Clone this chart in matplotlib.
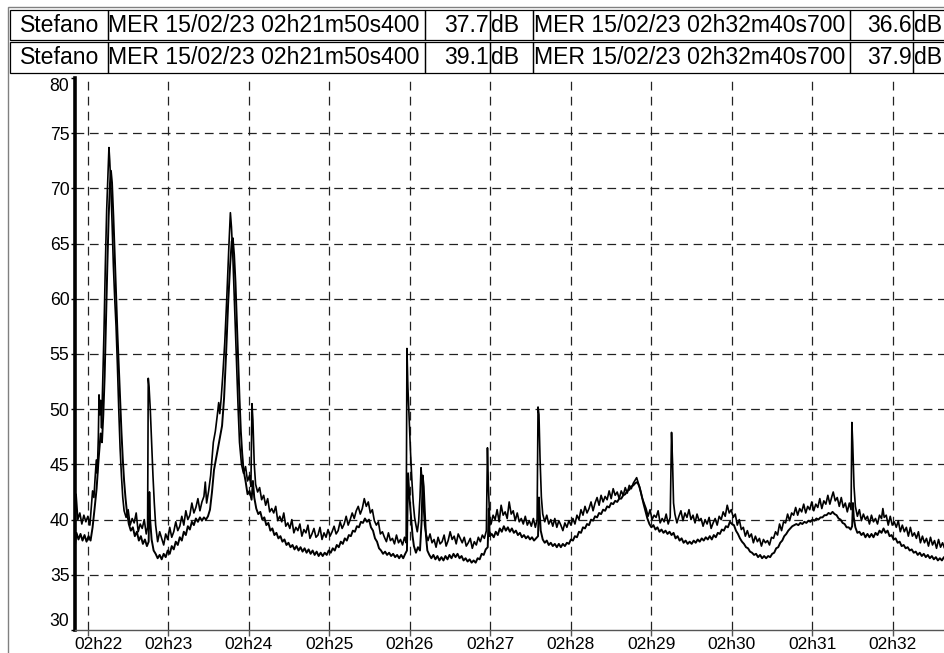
import matplotlib
matplotlib.use("Agg")
import matplotlib.pyplot as plt
from matplotlib.patches import Rectangle
from matplotlib.transforms import ScaledTranslation

plt.rcParams['font.family'] = ['Liberation Sans', 'DejaVu Sans']

# time in seconds after 02h21m00, level in dB
upper = [
    (50.4, 39.1), (51.2, 42.3), (52.5, 40.0), (54, 40.6), (55.5, 39.6), (57, 40.4), (58.5, 39.8),
    (60, 40.3), (61.5, 39.5), (62.5, 41.0), (63.5, 42.6), (64.5, 42.0), (65.5, 44.0), (66.3, 45.4),
    (67, 44.2), (67.8, 47.5), (68.3, 51.3), (68.9, 49.5), (69.5, 50.8), (70.2, 48.3), (71, 52),
    (72, 57), (73, 63), (74, 68), (75, 71.5), (75.7, 73.7), (76.3, 72.5), (77, 70.5), (78, 67),
    (79, 63), (80, 60), (81, 57.5), (82, 54), (83, 50), (84, 46.5), (85, 44), (86, 42), (87, 40.8),
    (88.5, 40.2), (90, 40.9), (91.5, 39.5), (93, 40.1), (94.5, 39.7), (96, 40.6), (97.5, 38.9),
    (99, 39.6), (100.5, 39.2), (102, 40.0), (103.5, 38.7), (104.5, 39.3), (105.0, 52.8),
    (105.6, 52.0), (106.5, 50.0), (107.5, 47.0), (108.5, 44.0), (109.5, 41.5), (110.5, 39.5),
    (112, 38.0), (113.5, 38.9), (115, 38.3), (116.5, 37.7), (118, 38.7), (119.5, 38.2), (121, 39.3),
    (122.5, 38.4), (124, 38.9), (125.5, 39.8), (127, 39.0), (128.5, 39.4), (130, 40.3), (131.5, 39.5),
    (133, 40.8), (134.5, 40.0), (136, 40.4), (137.5, 41.5), (139, 40.6), (140.5, 41.1), (142, 41.9),
    (143.5, 40.8), (145, 41.6), (146.5, 42.1), (147.5, 43.4), (148.5, 41.5), (150, 42.6), (151.5, 44.0),
    (152.5, 45.5), (153.5, 47), (155, 48), (156.5, 49.5), (157.5, 50.6), (158.3, 49.6), (159.3, 50.9),
    (160.5, 53), (162, 56), (163.5, 60), (165, 64.5), (166.2, 67.8), (167, 66.5), (168, 64),
    (169, 60.5), (170, 57), (171, 53.5), (172, 50), (173, 47), (174.5, 45), (176, 44.2), (177.5, 44.8),
    (179, 43.5), (180.5, 44.0), (181.5, 43.0), (182.3, 50.5), (183, 49), (184, 45), (185, 43.2),
    (186.5, 42.5), (188, 42.9), (189.5, 41.8), (191, 42.2), (192.5, 41.3), (194, 41.9), (195.5, 40.7),
    (197, 41.0), (198.5, 40.6), (200, 41.2), (201.5, 39.9), (203, 40.3), (204.5, 39.8), (206, 40.6),
    (207.5, 39.4), (209, 39.7), (210.5, 39.2), (212, 40.0), (213.5, 38.8), (215, 39.3), (216.5, 39.0),
    (218, 39.6), (219.5, 38.5), (221, 39.1), (222.5, 38.8), (224, 39.5), (225.5, 38.3), (227, 38.7),
    (228.5, 39.2), (230, 38.4), (231.5, 38.6), (233, 39.3), (234.5, 38.2), (236, 38.8), (237.5, 38.4),
    (239, 39.1), (240.5, 38.5), (242, 38.9), (243.5, 39.4), (245, 38.7), (246.5, 39.0), (248, 39.8),
    (249.5, 39.2), (251, 39.6), (252.5, 40.3), (254, 39.5), (255.5, 40.0), (257, 40.6), (258.5, 40.1),
    (260, 40.8), (261.5, 41.2), (263, 40.5), (264.5, 41.0), (266, 41.9), (267.5, 41.2), (269, 41.6),
    (270.5, 40.6), (272, 40.9), (273.5, 39.9), (275, 39.5), (276.5, 39.8), (278, 38.7), (279.5, 38.9),
    (281, 38.4), (282.5, 38.0), (284, 38.8), (285.5, 38.1), (287, 38.3), (288.5, 37.8), (290, 38.6),
    (291.5, 37.9), (293, 38.2), (294.5, 37.7), (296, 38.4), (297.2, 37.9), (297.8, 55.5), (298.5, 52),
    (299.5, 49), (300.5, 46), (301.5, 43.5), (302.5, 41.5), (303.5, 40.2), (304.5, 39.5), (305.5, 38.9),
    (306.5, 39.8), (307.5, 42), (308.3, 44.7), (309, 43.5), (310, 41.5), (311, 39.5), (312, 38.7),
    (313.5, 38.1), (315, 38.7), (316.5, 37.9), (318, 38.2), (319.5, 37.5), (321, 38.4), (322.5, 37.8),
    (324, 38.0), (325.5, 38.6), (327, 37.6), (328.5, 38.1), (330, 38.9), (331.5, 38.2), (333, 38.5),
    (334.5, 37.8), (336, 38.7), (337.5, 38.3), (339, 37.9), (340.5, 38.4), (342, 37.6), (343.5, 37.9),
    (345, 38.3), (346.5, 37.4), (348, 38.0), (349.5, 37.7), (351, 38.4), (352.5, 38.0), (354, 38.6),
    (355.5, 38.3), (357, 39.0), (357.8, 46.5), (358.5, 43), (359.5, 40), (360.5, 39.6), (362, 40.4),
    (363.5, 40.0), (365, 40.9), (366.5, 39.8), (368, 41.3), (369.5, 40.4), (371, 40.7), (372.5, 40.1),
    (374, 41.6), (375.5, 40.5), (377, 40.8), (378.5, 39.9), (380, 40.6), (381.5, 39.8), (383, 40.1),
    (384.5, 39.6), (386, 40.3), (387.5, 39.5), (389, 39.9), (390.5, 39.4), (392, 40.1), (393.5, 39.3),
    (394.8, 40.0), (395.5, 50.2), (396.2, 49.5), (397, 45.5), (398, 42), (399, 40.5), (400.5, 39.8),
    (402, 40.4), (403.5, 39.6), (405, 40.0), (406.5, 39.4), (408, 40.1), (409.5, 39.3), (411, 39.9),
    (412.5, 39.5), (414, 39.0), (415.5, 39.7), (417, 39.3), (418.5, 39.9), (420, 39.5), (421.5, 40.1),
    (423, 39.6), (424.5, 40.4), (426, 40.0), (427.5, 40.9), (429, 40.4), (430.5, 41.2), (432, 40.6),
    (433.5, 41.0), (435, 41.6), (436.5, 40.8), (438, 41.5), (439.5, 42.0), (441, 41.3), (442.5, 42.2),
    (444, 41.6), (445.5, 42.1), (447, 41.8), (448.5, 42.6), (450, 41.9), (451.5, 42.8), (453, 42.2),
    (454.5, 42.5), (456, 41.9), (457.5, 42.6), (459, 42.2), (460.5, 42.9), (462, 42.4), (463.5, 43.1),
    (465, 42.8), (466.5, 43.3), (468, 43.6), (469, 43.8), (470, 43.4), (471.5, 42.8), (473, 42.0),
    (474.5, 41.5), (476, 41.0), (477.5, 40.3), (479, 40.9), (480.5, 40.0), (482, 40.4), (483.5, 40.2),
    (485, 40.8), (486.5, 39.7), (488, 40.1), (489.5, 39.8), (491, 40.5), (492.5, 39.6), (494, 40.2),
    (495, 47.9), (495.8, 45), (496.5, 41.5), (497.5, 40.5), (499, 39.7), (500.5, 40.3), (502, 40.8),
    (503.5, 39.9), (505, 40.6), (506.5, 40.2), (508, 40.9), (509.5, 40.0), (511, 40.4), (512.5, 39.7),
    (514, 40.5), (515.5, 39.9), (517, 40.1), (518.5, 39.4), (520, 40.0), (521.5, 39.6), (523, 40.2),
    (524.5, 39.2), (526, 39.7), (527.5, 40.1), (529, 39.5), (530.5, 40.3), (532, 40.0), (533.5, 40.7),
    (535, 40.3), (536.5, 41.3), (538, 40.6), (539.5, 40.9), (541, 40.2), (542.5, 40.5), (544, 39.5),
    (545.5, 40.0), (547, 39.1), (548.5, 39.3), (550, 38.5), (551.5, 39.0), (553, 38.4), (554.5, 38.7),
    (556, 37.9), (557.5, 38.5), (559, 38.0), (560.5, 38.3), (562, 37.6), (563.5, 38.2), (565, 37.9),
    (566.5, 38.1), (568, 37.7), (569.5, 38.4), (571, 38.3), (572.5, 38.9), (574, 38.6), (575.5, 39.6),
    (577, 39.0), (578.5, 39.8), (580, 39.7), (581.5, 40.5), (583, 39.9), (584.5, 40.6), (586, 40.4),
    (587.5, 41.1), (589, 40.4), (590.5, 41.0), (592, 40.7), (593.5, 41.4), (595, 40.6), (596.5, 41.2),
    (598, 40.9), (599.5, 41.6), (601, 40.8), (602.5, 41.4), (604, 41.1), (605.5, 41.9), (607, 41.0),
    (608.5, 41.7), (610, 41.4), (611.5, 42.2), (613, 41.4), (614.5, 42.1), (615.5, 42.5), (617, 41.7),
    (618.5, 42.0), (620, 41.2), (621.5, 42.0), (623, 41.1), (624.5, 41.5), (626, 40.7), (627.5, 41.5),
    (628.8, 40.9), (629.4, 48.8), (630, 47), (631, 43), (632, 41.2), (633.5, 40.3), (635, 40.9),
    (636.5, 39.9), (638, 40.5), (639.5, 40.0), (641, 40.3), (642.5, 39.6), (644, 40.4), (645.5, 39.8),
    (647, 40.1), (648.5, 39.6), (650, 40.4), (651.5, 40.1), (652.5, 41.0), (653.5, 40.2), (655, 40.4),
    (656.5, 39.5), (658, 40.3), (659.5, 39.5), (661, 39.8), (662.5, 39.3), (664, 39.9), (665.5, 38.9),
    (667, 39.5), (668.5, 38.9), (670, 39.3), (671.5, 38.5), (673, 39.3), (674.5, 38.5), (676, 38.8),
    (677.5, 38.3), (679, 38.9), (680.5, 37.9), (682, 38.5), (683.5, 37.9), (685, 38.3), (686.5, 37.6),
    (688, 38.4), (689.5, 37.7), (691, 38.1), (692.5, 37.4), (694, 38.2), (695.5, 37.5), (697, 37.9),
    (698.5, 37.4), (700, 38.1), (700.7, 37.9),
]

lower = [
    (50.4, 37.7), (51.5, 38.8), (53, 38.2), (54.5, 38.7), (56, 38.1), (57.5, 38.6), (59, 38.0),
    (60.5, 38.5), (62, 38.1), (63.5, 39.3), (65, 41.0), (66.5, 42.8), (68, 45.5), (69.5, 47.8),
    (70.5, 47.0), (71.5, 49.5), (72.5, 53), (73.5, 58), (74.5, 63), (75.5, 67.5), (76.5, 70.5),
    (77.2, 71.6), (78, 70.5), (79, 67.5), (80, 64), (81, 60.5), (82, 57), (83, 54), (84, 51), (85, 48),
    (86, 45.5), (87, 43.5), (88, 42), (89, 40.8), (90.5, 39.6), (92, 39.0), (93.5, 39.3), (95, 38.5),
    (96.5, 38.9), (98, 38.1), (99.5, 38.5), (101, 37.8), (102.5, 38.2), (104, 37.6), (105.3, 38.0),
    (105.8, 42.5), (106.4, 40), (107.5, 38.2), (109, 37.2), (110.5, 36.9), (112, 36.5), (113.5, 36.8),
    (115, 36.4), (116.5, 36.9), (118, 36.6), (119.5, 37.2), (121, 36.9), (122.5, 37.6), (124, 37.3),
    (125.5, 38.0), (127, 37.7), (128.5, 38.4), (130, 38.1), (131.5, 38.9), (133, 38.6), (134.5, 39.4),
    (136, 39.1), (137.5, 39.8), (139, 39.5), (140.5, 40.1), (142, 39.8), (143.5, 40.2), (145, 39.9),
    (146.5, 40.2), (148, 40.0), (149.5, 40.3), (151, 40.9), (152.5, 42.5), (154, 44.5), (155.5, 45.5),
    (157, 46.5), (158.5, 47.5), (160, 48.5), (161.5, 51), (163, 55), (164.5, 59.5), (166, 63),
    (167.2, 65.2), (168, 65.5), (169, 64), (170, 61.5), (171, 58), (172, 54.5), (173, 51), (174, 48),
    (175, 46), (176, 44.5), (177.5, 43.5), (179, 42.3), (180.5, 42.6), (182, 41.8), (183, 43.5),
    (184, 42), (185.5, 41.0), (187, 40.5), (188.5, 40.7), (190, 40.0), (191.5, 40.2), (193, 39.5),
    (194.5, 39.7), (196, 39.0), (197.5, 39.2), (199, 38.6), (200.5, 38.8), (202, 38.3), (203.5, 38.5),
    (205, 38.0), (206.5, 38.2), (208, 37.7), (209.5, 37.9), (211, 37.5), (212.5, 37.7), (214, 37.3),
    (215.5, 37.6), (217, 37.2), (218.5, 37.5), (220, 37.1), (221.5, 37.4), (223, 37.0), (224.5, 37.3),
    (226, 36.9), (227.5, 37.2), (229, 36.8), (230.5, 37.1), (232, 36.7), (233.5, 37.0), (235, 36.7),
    (236.5, 37.0), (238, 36.8), (239.5, 37.2), (241, 37.0), (242.5, 37.4), (244, 37.2), (245.5, 37.7),
    (247, 37.5), (248.5, 38.0), (250, 37.8), (251.5, 38.3), (253, 38.1), (254.5, 38.6), (256, 38.5),
    (257.5, 39.0), (259, 38.9), (260.5, 39.4), (262, 39.3), (263.5, 39.8), (265, 39.7), (266.5, 40.1),
    (268, 39.8), (269.5, 40.0), (271, 39.3), (272.5, 39.0), (274, 38.3), (275.5, 38.0), (277, 37.4),
    (278.5, 37.2), (280, 36.9), (281.5, 37.1), (283, 36.8), (284.5, 37.0), (286, 36.7), (287.5, 36.9),
    (289, 36.6), (290.5, 36.8), (292, 36.5), (293.5, 36.8), (295, 36.5), (296.5, 36.9), (297.8, 37.2),
    (298.6, 44.2), (299.2, 43), (300, 41.5), (301, 40), (302, 38.5), (303, 37.6), (304.5, 37.0),
    (306, 37.5), (307.5, 37.2), (308.8, 40), (309.5, 44.0), (310.3, 43), (311, 41), (312, 38.5),
    (313, 37.2), (314.5, 36.8), (316, 36.5), (317.5, 36.8), (319, 36.4), (320.5, 36.7), (322, 36.3),
    (323.5, 36.6), (325, 36.3), (326.5, 36.7), (328, 36.4), (329.5, 36.8), (331, 36.5), (332.5, 36.9),
    (334, 36.6), (335.5, 36.9), (337, 36.5), (338.5, 36.7), (340, 36.3), (341.5, 36.5), (343, 36.2),
    (344.5, 36.4), (346, 36.1), (347.5, 36.3), (349, 36.1), (350.5, 36.5), (352, 36.4), (353.5, 36.9),
    (355, 36.8), (356.5, 37.3), (358, 37.5), (358.8, 41), (359.5, 38.5), (361, 38.7), (362.5, 38.4),
    (364, 38.9), (365.5, 38.6), (367, 39.2), (368.5, 38.9), (370, 39.4), (371.5, 39.0), (373, 39.3),
    (374.5, 38.9), (376, 39.2), (377.5, 38.8), (379, 39.0), (380.5, 38.6), (382, 38.8), (383.5, 38.4),
    (385, 38.6), (386.5, 38.3), (388, 38.5), (389.5, 38.2), (391, 38.4), (392.5, 38.1), (394, 38.3),
    (395.5, 38.5), (396.2, 42.0), (396.8, 40.5), (397.5, 39.0), (399, 38.2), (400.5, 37.9), (402, 38.1),
    (403.5, 37.7), (405, 37.9), (406.5, 37.6), (408, 37.8), (409.5, 37.5), (411, 37.8), (412.5, 37.5),
    (414, 37.8), (415.5, 37.6), (417, 37.9), (418.5, 37.8), (420, 38.2), (421.5, 38.1), (423, 38.5),
    (424.5, 38.4), (426, 38.9), (427.5, 38.8), (429, 39.3), (430.5, 39.2), (432, 39.6), (433.5, 39.5),
    (435, 40.0), (436.5, 39.9), (438, 40.3), (439.5, 40.2), (441, 40.6), (442.5, 40.5), (444, 40.9),
    (445.5, 40.8), (447, 41.2), (448.5, 41.1), (450, 41.5), (451.5, 41.4), (453, 41.7), (454.5, 41.6),
    (456, 41.9), (457.5, 41.9), (459, 42.2), (460.5, 42.3), (462, 42.6), (463.5, 42.7), (465, 43.0),
    (466.5, 43.1), (468, 43.3), (469.5, 43.4), (471, 43.0), (472.5, 42.3), (474, 41.5), (475.5, 40.8),
    (477, 40.1), (478.5, 39.6), (480, 39.3), (481.5, 39.5), (483, 39.1), (484.5, 39.3), (486, 38.9),
    (487.5, 39.1), (489, 38.8), (490.5, 39.0), (492, 38.7), (493.5, 38.9), (495, 38.6), (496.5, 38.8),
    (498, 38.3), (499.5, 38.5), (501, 38.1), (502.5, 38.3), (504, 37.9), (505.5, 38.1), (507, 37.8),
    (508.5, 38.0), (510, 37.8), (511.5, 38.1), (513, 37.9), (514.5, 38.2), (516, 38.0), (517.5, 38.3),
    (519, 38.1), (520.5, 38.4), (522, 38.2), (523.5, 38.5), (525, 38.2), (526.5, 38.6), (528, 38.4),
    (529.5, 38.8), (531, 38.7), (532.5, 39.1), (534, 39.0), (535.5, 39.4), (537, 39.3), (538.5, 39.8),
    (540, 39.6), (541.5, 39.5), (543, 39.0), (544.5, 38.7), (546, 38.3), (547.5, 38.0), (549, 37.8),
    (550.5, 37.5), (552, 37.4), (553.5, 37.1), (555, 37.0), (556.5, 36.8), (558, 36.9), (559.5, 36.6),
    (561, 36.8), (562.5, 36.5), (564, 36.7), (565.5, 36.5), (567, 36.7), (568.5, 36.6), (570, 36.9),
    (571.5, 37.0), (573, 37.4), (574.5, 37.5), (576, 37.9), (577.5, 38.1), (579, 38.5), (580.5, 38.7),
    (582, 39.0), (583.5, 39.2), (585, 39.4), (586.5, 39.5), (588, 39.6), (589.5, 39.5), (591, 39.7),
    (592.5, 39.6), (594, 39.8), (595.5, 39.7), (597, 39.9), (598.5, 39.8), (600, 40.0), (601.5, 39.9),
    (603, 40.1), (604.5, 40.0), (606, 40.2), (607.5, 40.2), (609, 40.4), (610.5, 40.4), (612, 40.6),
    (613.5, 40.5), (615, 40.7), (616.5, 40.5), (618, 40.4), (619.5, 40.1), (621, 40.0), (622.5, 39.7),
    (624, 39.6), (625.5, 39.3), (627, 39.3), (628.5, 39.1), (629.6, 39.4), (630.2, 41.5), (630.8, 40.2),
    (632, 39.3), (633.5, 38.8), (635, 38.9), (636.5, 38.6), (638, 38.8), (639.5, 38.4), (641, 38.7),
    (642.5, 38.4), (644, 38.7), (645.5, 38.4), (647, 38.8), (648.5, 38.6), (650, 39.0), (651.5, 38.8),
    (653, 39.2), (654.5, 38.8), (656, 39.0), (657.5, 38.5), (659, 38.6), (660.5, 38.2), (662, 38.3),
    (663.5, 37.9), (665, 38.0), (666.5, 37.6), (668, 37.7), (669.5, 37.4), (671, 37.5), (672.5, 37.2),
    (674, 37.3), (675.5, 37.0), (677, 37.1), (678.5, 36.8), (680, 37.0), (681.5, 36.7), (683, 36.9),
    (684.5, 36.6), (686, 36.8), (687.5, 36.5), (689, 36.7), (690.5, 36.4), (692, 36.6), (693.5, 36.3),
    (695, 36.5), (696.5, 36.3), (698, 36.6), (699.5, 36.4), (700.7, 36.6),
]

t_start, t_end = 50.4, 700.7
minute_ticks = [60, 120, 180, 240, 300, 360, 420, 480, 540, 600, 660]
minute_labels = ['02h22', '02h23', '02h24', '02h25', '02h26', '02h27',
                 '02h28', '02h29', '02h30', '02h31', '02h32']
db_ticks = [30, 35, 40, 45, 50, 55, 60, 65, 70, 75, 80]

# header rows: name, start stamp, start value, end stamp, end value
header_rows = [
    ('Stefano', 'MER 15/02/23 02h21m50s400', '37.7', 'MER 15/02/23 02h32m40s700', '36.6'),
    ('Stefano', 'MER 15/02/23 02h21m50s400', '39.1', 'MER 15/02/23 02h32m40s700', '37.9'),
]

W, H = 944, 653
fig = plt.figure(figsize=(W / 100, H / 100), dpi=100)


def fx(x):
    return x / W


def fy(y):
    return 1 - y / H


def box(x0, y0, x1, y1, **kw):
    fig.patches.append(Rectangle((fx(x0), fy(y1)), fx(x1) - fx(x0), fy(y0) - fy(y1),
                                 transform=fig.transFigure, fill=False, **kw))


# outer frame
box(8, 7, 960, 670, edgecolor='#808080', linewidth=1.0)

hfont = 16.6
cols = [10, 108, 425, 490, 533, 850, 913, 960]
rows = [(10, 40, 32), (42, 73, 63.5)]
for (name, s1, v1, s2, v2), (y0, y1, base) in zip(header_rows, rows):
    for a, b in zip(cols[:-1], cols[1:]):
        box(a, y0, b, y1, edgecolor='black', linewidth=0.9)
    fig.text(fx(20), fy(base), name, fontsize=hfont, va='baseline', ha='left')
    fig.text(fx(108), fy(base), s1, fontsize=hfont, va='baseline', ha='left')
    fig.text(fx(489), fy(base), v1, fontsize=hfont, va='baseline', ha='right')
    fig.text(fx(491), fy(base), 'dB', fontsize=hfont, va='baseline', ha='left')
    fig.text(fx(534), fy(base), s2, fontsize=hfont, va='baseline', ha='left')
    fig.text(fx(912), fy(base), v2, fontsize=hfont, va='baseline', ha='right')
    fig.text(fx(914), fy(base), 'dB', fontsize=hfont, va='baseline', ha='left')

# plot area
x_left = 75
x_right = 89 + (t_end - 60) * 80.4 / 60
ax = fig.add_axes([fx(x_left), fy(630), fx(x_right) - fx(x_left), fy(78) - fy(630)])

ut, uv = zip(*upper)
lt, lv = zip(*lower)
ax.plot(lt, lv, color='black', linewidth=1.4, zorder=3)
ax.plot(ut, uv, color='black', linewidth=1.2, zorder=3)

ax.set_xlim(t_start, t_end)
ax.set_ylim(30, 80)
ax.set_xticks(minute_ticks)
ax.set_xticklabels(minute_labels)
ax.set_yticks(db_ticks)
ax.set_yticklabels([str(v) for v in db_ticks])

for v in db_ticks[1:-1]:
    ax.axhline(v, color='#222222', linewidth=0.9, dashes=(7, 4.5), zorder=1)
for t in minute_ticks:
    ax.axvline(t, color='#222222', linewidth=0.9, dashes=(7, 5), zorder=1)

for side in ['top', 'right']:
    ax.spines[side].set_visible(False)
ax.spines['left'].set_linewidth(2.6)
ax.spines['left'].set_color('black')
ax.spines['bottom'].set_linewidth(1.0)
ax.spines['bottom'].set_color('#555555')

ax.tick_params(axis='y', direction='out', length=3, width=1, pad=1, labelsize=12.7)
ax.tick_params(axis='x', direction='out', length=4, width=1, pad=0.8, labelsize=12.5, color='#555555')

ylabels = ax.get_yticklabels()
ylabels[0].set_va('bottom')
ylabels[-1].set_va('top')
xlabels = ax.get_xticklabels()
xlabels[0].set_transform(xlabels[0].get_transform() + ScaledTranslation(0.11, 0, fig.dpi_scale_trans))

fig.savefig('out.png', dpi=100)
